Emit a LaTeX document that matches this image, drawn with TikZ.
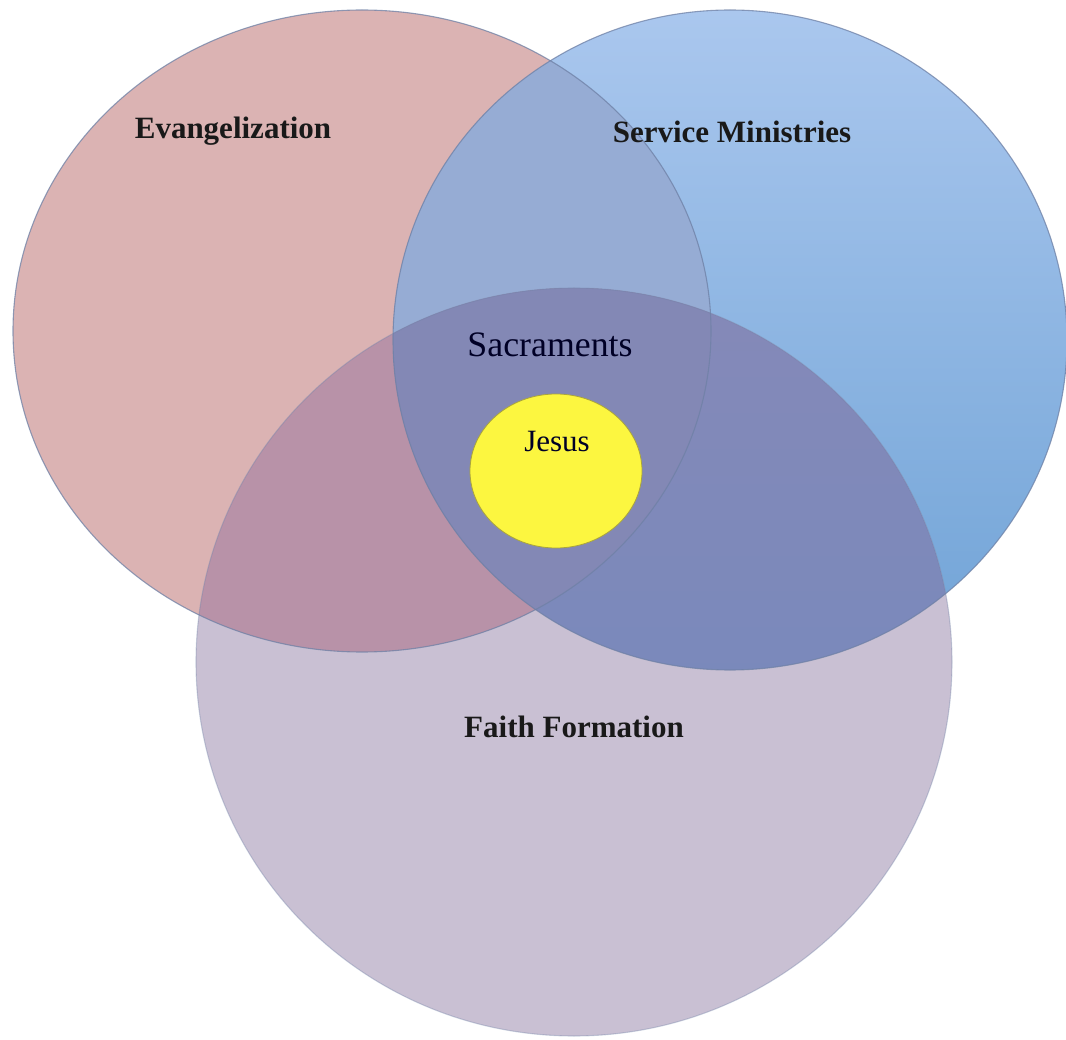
\documentclass[tikz,border=0pt]{standalone}
\usepackage{fontspec}
\setmainfont{Liberation Serif}
\usetikzlibrary{shapes.geometric}
\definecolor{redonly}{RGB}{219,179,179}
\definecolor{bluetop}{RGB}{170,199,238}
\definecolor{bluebot}{RGB}{112,163,214}
\definecolor{purponly}{RGB}{201,192,211}
\definecolor{rb}{RGB}{150,172,212}
\definecolor{rp}{RGB}{184,146,168}
\definecolor{bptop}{RGB}{133,137,184}
\definecolor{bpbot}{RGB}{112,137,190}
\definecolor{rbp}{RGB}{131,136,181}
\definecolor{edge}{RGB}{110,128,165}
\definecolor{jesusy}{RGB}{252,246,64}
\definecolor{jesusedge}{RGB}{170,165,60}
\tikzset{
  rim/.style={draw=edge, line width=1.1pt, draw opacity=0.75},
  bold label/.style={font=\fontsize{31}{31}\selectfont\bfseries, text=black!90, anchor=base, inner sep=0pt},
  plain label/.style={font=\fontsize{#1}{#1}\selectfont, text=black!85!blue, anchor=base, inner sep=0pt},
}
\def\redE{(362,331) ellipse [x radius=349pt, y radius=321pt]}
\def\blueE{(730,340) ellipse [x radius=337pt, y radius=330pt]}
\def\purpE{(574,662) ellipse [x radius=378pt, y radius=374pt]}
\begin{document}
\begin{tikzpicture}[x=1pt,y=-1pt]
\useasboundingbox (0,0) rectangle (1066,1040);
% base fills
\fill[redonly] \redE;
\shade[top color=bluetop, bottom color=bluebot] \blueE;
\fill[purponly] \purpE;
% red & blue
\begin{scope}
  \clip \redE;
  \fill[rb] \blueE;
\end{scope}
% red & purple
\begin{scope}
  \clip \redE;
  \fill[rp] \purpE;
\end{scope}
% blue & purple
\begin{scope}
  \clip \blueE;
  \shade[top color=bptop, bottom color=bpbot] \purpE;
\end{scope}
% all three
\begin{scope}
  \clip \redE;
  \clip \blueE;
  \fill[rbp] \purpE;
\end{scope}
% rims
\path[rim, draw opacity=0.35] \purpE;
\path[rim] \redE;
\path[rim] \blueE;
% Jesus
\node[ellipse, minimum width=172pt, minimum height=154pt, fill=jesusy, draw=jesusedge, line width=0.8pt, inner sep=0pt] (jesusE) at (556,471) {};
% labels
\node[bold label] (evang) at (233,139) {Evangelization};
\node[bold label] (service) at (732,143) {Service Ministries};
\node[bold label] (faith) at (574,737) {Faith Formation};
\node[plain label=35.8] (sacr) at (550,357) {Sacraments};
\node[plain label=31] (jesus) at (557,452) {Jesus};
\end{tikzpicture}
\end{document}
